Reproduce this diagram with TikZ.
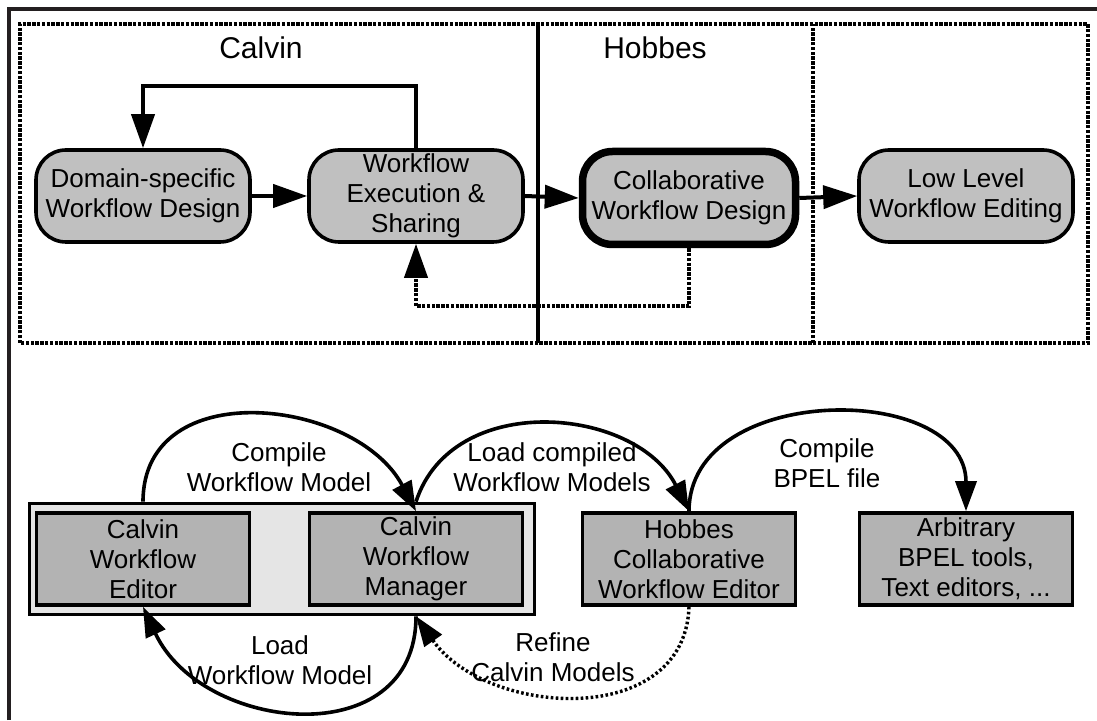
\documentclass[tikz,border=0pt]{standalone}
\usepackage{fontspec}
\setmainfont{Liberation Sans}
\usetikzlibrary{arrows.meta,calc}
\definecolor{framec}{HTML}{231F20}
\definecolor{rfill}{HTML}{C0C0C0}
\definecolor{bfill}{HTML}{B3B3B3}
\definecolor{cfill}{HTML}{E5E5E5}
\begin{document}
\begin{tikzpicture}[x=1pt,y=1pt,
 txt/.style={font=\fontsize{26}{30}\selectfont, align=center, inner sep=0pt},
 big/.style={font=\fontsize{30}{34}\selectfont, inner sep=0pt},
 rbox/.style={txt, draw=black, line width=3.6pt, fill=rfill, rounded corners=30pt, minimum width=214pt, minimum height=92pt},
 sbox/.style={txt, draw=black, line width=3.6pt, fill=bfill, minimum width=213pt, minimum height=92pt},
 arr/.style={line width=4pt, -{Triangle[length=34pt,width=23pt]}},
 carr/.style={line width=3.6pt, -{Triangle[length=30pt,width=21pt]}},
 dots/.style={line width=4pt, dash pattern=on 3.4pt off 1.4pt},
 dotsm/.style={line width=3.4pt, dash pattern=on 2.6pt off 2.4pt}
]
\useasboundingbox (0,0) rectangle (1097,720);
% outer frame (top and left only)
\draw[framec, line width=3.4pt] (9,0) -- (9,711) -- (1097,711);
% dotted regions
\draw[dots] (20,377) rectangle (1088,696);
\draw[dots] (813,377) -- (813,696);
\draw[line width=4pt] (538,377) -- (538,696);
\node[big] (calvin) at (261,672) {Calvin};
\node[big] (hobbes) at (655,672) {Hobbes};
% top row
\node[rbox] (dom) at (143,524) {Domain-specific\\Workflow Design};
\node[rbox] (wf) at (416,524) {Workflow\\Execution \&\\Sharing};
\node[rbox, line width=7.5pt, minimum width=213pt, minimum height=93pt] (col) at (689,522) {Collaborative\\Workflow Design};
\node[rbox] (low) at (966,524) {Low Level\\Workflow Editing};
\draw[arr] (dom.east) -- (wf.west);
\draw[arr] (wf.east) -- (col.west);
\draw[arr] (col.east) -- (low.west);
\draw[arr] (wf.north) -- ++(0,62) -| (dom.north);
\draw[dots, -{Triangle[length=34pt,width=23pt]}] (col.south) -- ++(0,-58) -| (wf.south);
% bottom
\node[draw=black, line width=3.6pt, fill=cfill, minimum width=505pt, minimum height=111pt, inner sep=0pt] (cont) at (282,161) {};
\node[sbox] (ed) at (143,161) {Calvin\\Workflow\\Editor};
\node[sbox] (mgr) at (416,161) {Calvin\\Workflow\\Manager};
\node[sbox] (hob) at (689,161) {Hobbes\\Collaborative\\Workflow Editor};
\node[sbox] (arb) at (966,161) {Arbitrary\\BPEL tools,\\Text editors, ...};
\draw[carr] (ed.north |- cont.north) to[out=90,in=118,looseness=1.2] (mgr.north);
\draw[carr] (mgr.north |- cont.north) to[out=72,in=117,looseness=1.1] (hob.north);
\draw[carr] (hob.north) to[out=90,in=90,looseness=1.2] (arb.north);
\draw[carr] (mgr.south |- cont.south) to[out=-90,in=-65,looseness=1.3] (ed.south);
\draw[carr, dotsm] (hob.south) to[out=-92,in=-55,looseness=1.15] (mgr.south |- cont.south);
\node[txt] (l1) at (279,253) {Compile\\Workflow Model};
\node[txt] (l2) at (552,253) {Load compiled\\Workflow Models};
\node[txt] (l3) at (827,257) {Compile\\BPEL file};
\node[txt] (l4) at (280,60) {Load\\Workflow Model};
\node[txt] (l5) at (553,63) {Refine\\Calvin Models};
\end{tikzpicture}
\end{document}
